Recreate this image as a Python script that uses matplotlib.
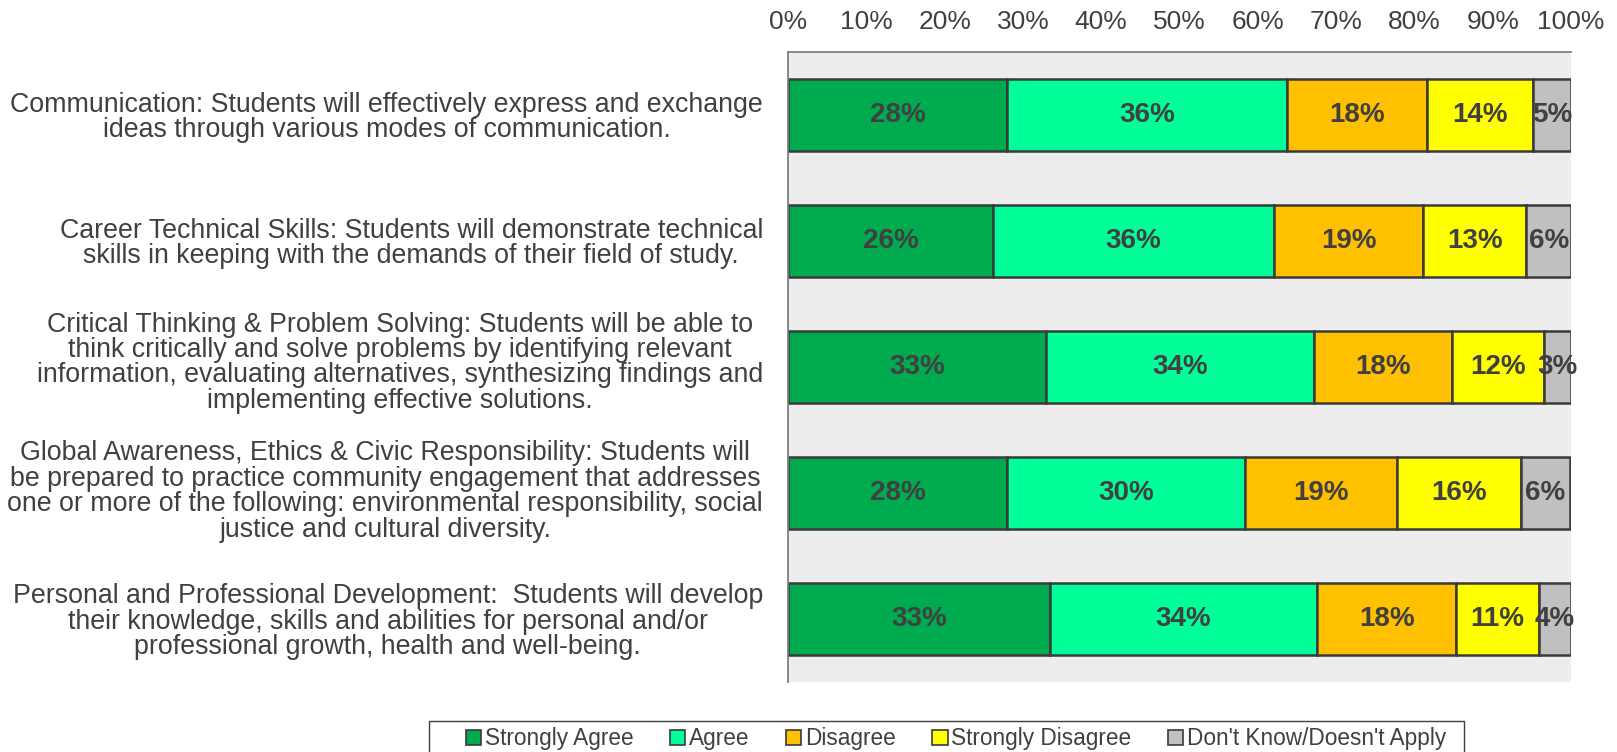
import matplotlib
matplotlib.use("Agg")
import matplotlib.pyplot as plt
from matplotlib.patches import Patch, Rectangle
from matplotlib.transforms import ScaledTranslation
import numpy as np

plt.rcParams['font.family'] = ['Liberation Sans', 'DejaVu Sans']

categories = [
    "Communication: Students will effectively express and exchange\nideas through various modes of communication.",
    "Career Technical Skills: Students will demonstrate technical\nskills in keeping with the demands of their field of study.",
    "Critical Thinking & Problem Solving: Students will be able to\nthink critically and solve problems by identifying relevant\ninformation, evaluating alternatives, synthesizing findings and\nimplementing effective solutions.",
    "Global Awareness, Ethics & Civic Responsibility: Students will\nbe prepared to practice community engagement that addresses\none or more of the following: environmental responsibility, social\njustice and cultural diversity.",
    "Personal and Professional Development:  Students will develop\ntheir knowledge, skills and abilities for personal and/or\nprofessional growth, health and well-being.",
]
series_names = ["Strongly Agree", "Agree", "Disagree", "Strongly Disagree", "Don't Know/Doesn't Apply"]
strongly_agree = [28.0, 26.2, 32.9, 28.0, 33.4]
agree = [35.7, 35.9, 34.3, 30.4, 34.2]
disagree = [17.9, 19.0, 17.6, 19.4, 17.7]
strongly_disagree = [13.6, 13.2, 11.8, 15.8, 10.6]
dont_know = [4.8, 5.7, 3.4, 6.3, 4.1]
series_values = [strongly_agree, agree, disagree, strongly_disagree, dont_know]
colors = ["#00AA4F", "#00FF99", "#FFC000", "#FFFF00", "#C0C0C0"]
xtick_values = [0, 10, 20, 30, 40, 50, 60, 70, 80, 90, 100]
xtick_labels = [f"{v}%" for v in xtick_values]

W, H = 1617, 752
fig = plt.figure(figsize=(W / 100, H / 100), dpi=100)
ax = fig.add_axes([788 / W, 1 - 682 / H, (1571 - 788) / W, (682 - 52) / H])
ax.set_facecolor("#EDEDED")

txt = "#404040"
y = np.arange(len(categories))
left = np.zeros(len(categories))
for name, vals, c in zip(series_names, series_values, colors):
    vals = np.array(vals)
    bars = ax.barh(y, vals, left=left, height=0.57, color=c, edgecolor="#3A3A3A",
                   linewidth=1.8, label=name)
    ax.bar_label(bars, labels=[f"{round(v)}%" for v in vals], label_type="center",
                 fontsize=20, fontweight="bold", color=txt)
    left += vals

ax.set_xlim(0, 100)
ax.set_ylim(len(categories) - 0.5, -0.5)
ax.xaxis.tick_top()
ax.set_xticks(xtick_values)
ax.set_xticklabels(xtick_labels)
ax.tick_params(axis="x", length=0, pad=13, labelsize=19, colors=txt)
ax.set_yticks(y)
ax.set_yticklabels(categories, multialignment="center", linespacing=0.97)
ax.tick_params(axis="y", length=0, pad=18, labelsize=19.3, colors=txt)

# small vertical nudges of the long labels, as in the reference
label_shift_pt = [0, 0, 5, 3, 0]
for lab, dy in zip(ax.get_yticklabels(), label_shift_pt):
    if dy:
        lab.set_transform(lab.get_transform() + ScaledTranslation(0, dy / 72, fig.dpi_scale_trans))

for s in ["right", "bottom"]:
    ax.spines[s].set_visible(False)
for s in ["top", "left"]:
    ax.spines[s].set_color("#7F7F7F")
    ax.spines[s].set_linewidth(1.3)

handles = [Patch(facecolor=c, edgecolor="#3A3A3A", linewidth=1.2) for c in colors]
leg = fig.legend(handles, series_names, loc="center left", bbox_to_anchor=(466 / W, 1 - 739 / H),
                 ncol=5, fontsize=16.3, frameon=False, handlelength=0.68,
                 handleheight=0.68, handletextpad=0.15, columnspacing=1.62, borderpad=0,
                 borderaxespad=0)
for t in leg.get_texts():
    t.set_color(txt)
fig.patches.append(Rectangle((429 / W, -0.05), (1464 - 429) / W, 0.05 + 31 / H,
                             transform=fig.transFigure, fill=False, edgecolor="#404040",
                             linewidth=1.0))

fig.savefig("out.png", dpi=100)
